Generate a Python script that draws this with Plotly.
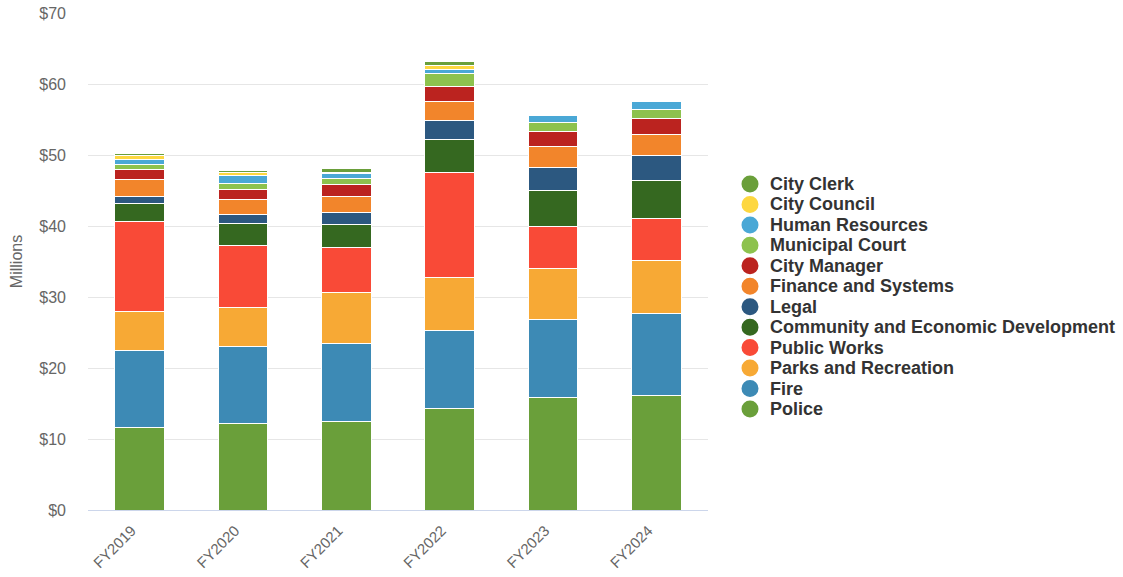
import plotly.graph_objects as go

# Fiscal years on the category axis
years = ["FY2019", "FY2020", "FY2021", "FY2022", "FY2023", "FY2024"]

# Department expenditures, in millions of dollars (stacked bottom to top)
police = [11.65, 12.2, 12.5, 14.32, 15.87, 16.06]
fire = [10.75, 10.85, 10.98, 11.03, 10.99, 11.64]
parks_and_recreation = [5.53, 5.5, 7.18, 7.42, 7.18, 7.41]
public_works = [12.67, 8.67, 6.38, 14.79, 5.96, 5.92]
community_economic_dev = [2.5, 3.15, 3.14, 4.65, 5.07, 5.31]
legal = [1.0, 1.2, 1.7, 2.71, 3.2, 3.56]
finance_and_systems = [2.4, 2.1, 2.3, 2.58, 2.9, 2.96]
city_manager = [1.5, 1.5, 1.67, 2.11, 2.11, 2.34]
municipal_court = [0.6, 0.85, 0.8, 1.88, 1.27, 1.23]
human_resources = [0.8, 1.1, 0.7, 0.6, 1.04, 1.08]
city_council = [0.5, 0.36, 0.15, 0.5, 0.0, 0.0]
city_clerk = [0.3, 0.37, 0.6, 0.6, 0.0, 0.0]

series = [
    ("Police", police, "#6a9f3a"),
    ("Fire", fire, "#3d8ab5"),
    ("Parks and Recreation", parks_and_recreation, "#f7a935"),
    ("Public Works", public_works, "#f94a37"),
    ("Community and Economic Development", community_economic_dev, "#356820"),
    ("Legal", legal, "#2c5880"),
    ("Finance and Systems", finance_and_systems, "#f2852b"),
    ("City Manager", city_manager, "#bb231f"),
    ("Municipal Court", municipal_court, "#8dc24e"),
    ("Human Resources", human_resources, "#4aa8d6"),
    ("City Council", city_council, "#fdd740"),
    ("City Clerk", city_clerk, "#6a9f3a"),
]

W, H = 1123, 577
M_L, M_R, M_T, M_B = 88, 415, 13, 67
plot_w = W - M_L - M_R
plot_h = H - M_T - M_B

fig = go.Figure()

for name, values, color in series:
    fig.add_trace(go.Bar(
        x=years, y=values, name=name,
        marker=dict(color=color, line=dict(color="white", width=1)),
        showlegend=False,
        hovertemplate="%{x}<br>" + name + ": $%{y:.2f}M<extra></extra>",
    ))

# Custom legend: circle swatch + bold label per department, top department first
legend_left_px = 750      # swatch centre, page pixels
legend_top_px = 184       # first row centre
row_step_px = 20.45
swatch_px = 17
shapes, annotations = [], []
for i, (name, _, color) in enumerate(reversed(series)):
    cy_px = legend_top_px + i * row_step_px
    px = (legend_left_px - M_L) / plot_w
    py = (H - M_B - cy_px) / plot_h
    shapes.append(dict(
        type="circle", xref="paper", yref="paper",
        xsizemode="pixel", ysizemode="pixel",
        xanchor=px, yanchor=py,
        x0=-swatch_px / 2, x1=swatch_px / 2,
        y0=-swatch_px / 2, y1=swatch_px / 2,
        fillcolor=color, line=dict(width=0),
    ))
    annotations.append(dict(
        xref="paper", yref="paper",
        x=(legend_left_px + 18 - M_L) / plot_w, y=py,
        xanchor="left", yanchor="middle",
        text="<b>" + name + "</b>", showarrow=False,
        font=dict(size=18, color="#333333", family="Liberation Sans, Arial, sans-serif"),
    ))

fig.update_layout(
    barmode="stack",
    bargap=0.52,
    width=W, height=H,
    margin=dict(l=M_L, r=M_R, t=M_T, b=M_B),
    plot_bgcolor="white",
    paper_bgcolor="white",
    font=dict(family="Liberation Sans, Arial, sans-serif", color="#666666"),
    showlegend=False,
    shapes=shapes,
    annotations=annotations,
)

fig.update_xaxes(
    tickangle=-45,
    tickfont=dict(size=15, color="#666666"),
    showline=True, linecolor="#ccd6eb", linewidth=1,
    showgrid=False, ticks="",
    automargin=False,
    ticklabelstandoff=5,
    ticklabelshift=-8,
)

fig.update_yaxes(
    range=[0, 70], dtick=10, tickprefix="$",
    tickfont=dict(size=16, color="#666666"),
    showgrid=True, gridcolor="#e6e6e6", gridwidth=1,
    zeroline=False,
    title=dict(text="Millions", font=dict(size=16, color="#666666"), standoff=12),
    ticks="", ticklabelstandoff=21,
    automargin=False,
)

fig.write_html("out.html")
